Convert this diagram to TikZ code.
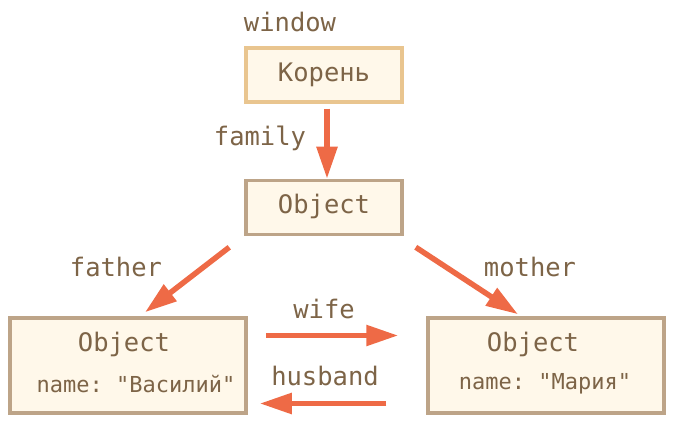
\documentclass[tikz,border=0pt]{standalone}
\usepackage{fontspec}
\setmonofont{DejaVu Sans Mono}
\usetikzlibrary{arrows.meta}
\definecolor{txt}{HTML}{7D6447}
\definecolor{arrowc}{HTML}{EE6A46}
\definecolor{boxfill}{HTML}{FFF8EA}
\definecolor{rootline}{HTML}{E9C58F}
\definecolor{objline}{HTML}{BDA488}
\begin{document}
\begin{tikzpicture}[x=1pt, y=-1pt,
  box/.style = {draw=objline, fill=boxfill, line width=3.5pt, minimum width=156pt, minimum height=54pt},
  big/.style = {box, minimum width=236pt, minimum height=95pt},
  word/.style = {text=txt, inner sep=0pt, font=\ttfamily\fontsize{25.5}{30}\selectfont},
  small/.style = {word, font=\ttfamily\fontsize{22}{26}\selectfont},
  link/.style = {draw=arrowc, line width=5.5pt, -{Triangle[length=32pt,width=20pt]}}]
\useasboundingbox (0,0) rectangle (674,430);

\node[box, draw=rootline] (root) at (324,75) {};
\node[word] (rootname) at (324,75) {Корень};
\node[box] (obj) at (324,207.5) {};
\node[word] (objname) at (324,206) {Object};
\node[big] (vasilij) at (128,365.5) {};
\node[word] (vasobj) at (124,344) {Object};
\node[small] (vasname) at (136,384) {name: "Василий"};
\node[big] (maria) at (546,365.5) {};
\node[word] (marobj) at (533,344) {Object};
\node[small] (marname) at (545,384) {name: "Мария"};

\node[word] (window) at (290,22) {window};
\node[word] (family) at (260,138) {family};
\node[word] (father) at (116,267) {father};
\node[word] (mother) at (530,267) {mother};
\node[word] (wife) at (324,309) {wife};
\node[word] (husband) at (325,376) {husband};

\draw[link] ([shift={(3,5)}]root.south) -- ([shift={(3,0)}]obj.north);
\draw[link] ([shift={(-15,11)}]obj.south west) -- ([shift={(17,-4)}]vasilij.north);
\draw[link] ([shift={(12,11)}]obj.south east) -- ([shift={(-28,-2)}]maria.north);
\draw[link] ([shift={(18,-30)}]vasilij.east) -- ([shift={(-28,-30)}]maria.west);
\draw[link] ([shift={(-40,38)}]maria.west) -- ([shift={(12,38)}]vasilij.east);

\end{tikzpicture}
\end{document}
